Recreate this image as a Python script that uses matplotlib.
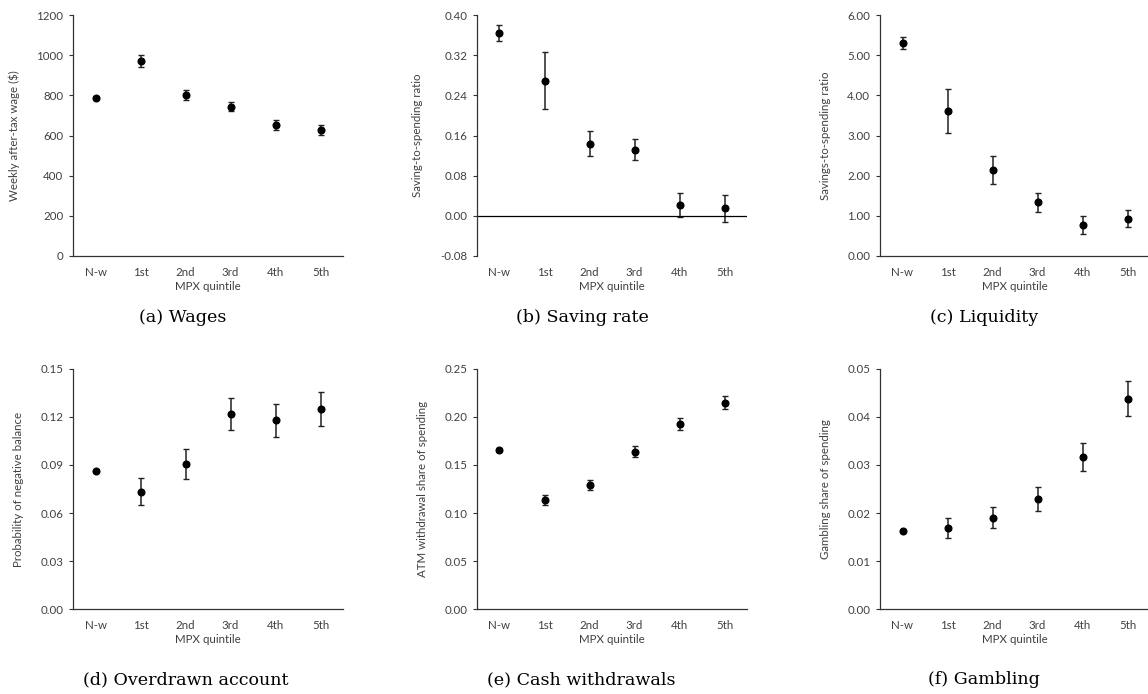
import numpy as np
import matplotlib
matplotlib.use("Agg")
import matplotlib.pyplot as plt

quintiles = ["N-w", "1st", "2nd", "3rd", "4th", "5th"]

wages = [786, 971, 803, 744, 652, 626]
wages_err = [6, 28, 25, 23, 23, 24]

saving = [0.364, 0.269, 0.144, 0.132, 0.021, 0.015]
saving_err = [0.016, 0.057, 0.024, 0.021, 0.024, 0.027]

liquidity = [5.30, 3.60, 2.14, 1.34, 0.77, 0.93]
liquidity_err = [0.145, 0.55, 0.35, 0.24, 0.225, 0.21]

overdrawn = [0.0863, 0.0733, 0.0906, 0.1219, 0.1179, 0.1250]
overdrawn_err = [0.0008, 0.0083, 0.0093, 0.0099, 0.0101, 0.0105]

cash = [0.166, 0.1135, 0.129, 0.164, 0.193, 0.215]
cash_err = [0.0015, 0.0052, 0.0055, 0.0057, 0.0063, 0.0069]

gambling = [0.0162, 0.0168, 0.0190, 0.0229, 0.0317, 0.0438]
gambling_err = [0.0002, 0.0021, 0.0022, 0.0025, 0.0029, 0.0036]

TXT = "#404040"
FS = 8.3
plt.rcParams["font.family"] = ["Lato", "DejaVu Sans"]

fig = plt.figure(figsize=(11.48, 6.94), dpi=100)

W, H = 1148, 694
panels = [
    # left px, top px, bottom px, values, errors, ylim, yticks, fmt, ylabel, caption, cap x, cap y
    (73, 15, 256, wages, wages_err, (0, 1200), np.arange(0, 1201, 200), "{:.0f}",
     "Weekly after-tax wage ($)", "(a) Wages", 183, 317),
    (477, 15, 256, saving, saving_err, (-0.08, 0.40), np.arange(-0.08, 0.41, 0.08), "{:.2f}",
     "Saving-to-spending ratio", "(b) Saving rate", 582, 317),
    (880, 15, 256, liquidity, liquidity_err, (0, 6), np.arange(0, 6.01, 1), "{:.2f}",
     "Savings-to-spending ratio", "(c) Liquidity", 984, 317),
    (73, 369, 609, overdrawn, overdrawn_err, (0, 0.15), np.arange(0, 0.151, 0.03), "{:.2f}",
     "Probability of negative balance", "(d) Overdrawn account", 186, 680),
    (477, 369, 609, cash, cash_err, (0, 0.25), np.arange(0, 0.251, 0.05), "{:.2f}",
     "ATM withdrawal share of spending", "(e) Cash withdrawals", 581, 680),
    (880, 369, 609, gambling, gambling_err, (0, 0.05), np.arange(0, 0.0501, 0.01), "{:.2f}",
     "Gambling share of spending", "(f) Gambling", 984, 680),
]

x = np.arange(len(quintiles))

for left, top, bot, vals, errs, ylim, yticks, fmt, ylab, cap, cx, cy in panels:
    ax = fig.add_axes([left / W, 1 - bot / H, 270 / W, (bot - top) / H])
    ax.errorbar(x, vals, yerr=errs, fmt="o", color="black", markersize=4.8,
                elinewidth=1.1, capsize=2, capthick=1, ecolor="#222222")
    ax.set_xlim(-0.5, 5.5)
    ax.set_ylim(*ylim)
    ax.set_yticks(yticks)
    ax.set_yticklabels([fmt.format(v) if abs(v) > 1e-9 else fmt.format(0) for v in yticks])
    ax.set_xticks(x)
    ax.set_xticklabels(quintiles)
    ax.tick_params(axis="x", length=0, pad=8, labelsize=FS, labelcolor=TXT)
    ax.tick_params(axis="y", length=3, width=0.8, pad=4, labelsize=FS, labelcolor=TXT, color="#333333")
    ax.spines["top"].set_visible(False)
    ax.spines["right"].set_visible(False)
    ax.spines["left"].set_color("#333333")
    ax.spines["bottom"].set_color("#333333")
    ax.spines["left"].set_linewidth(0.9)
    ax.spines["bottom"].set_linewidth(0.9)
    if ylim[0] < 0:
        ax.spines["bottom"].set_visible(False)
        ax.axhline(0, color="black", linewidth=0.9)
    ax.set_xlabel("MPX quintile", fontsize=FS, color=TXT, labelpad=2)
    ax.set_ylabel(ylab, fontsize=FS, color=TXT, labelpad=12)
    fig.text(cx / W, 1 - cy / H, cap, ha="center", va="center",
             fontsize=12.6, family=["DejaVu Serif"], color="black")

fig.savefig("out.png", dpi=100)
